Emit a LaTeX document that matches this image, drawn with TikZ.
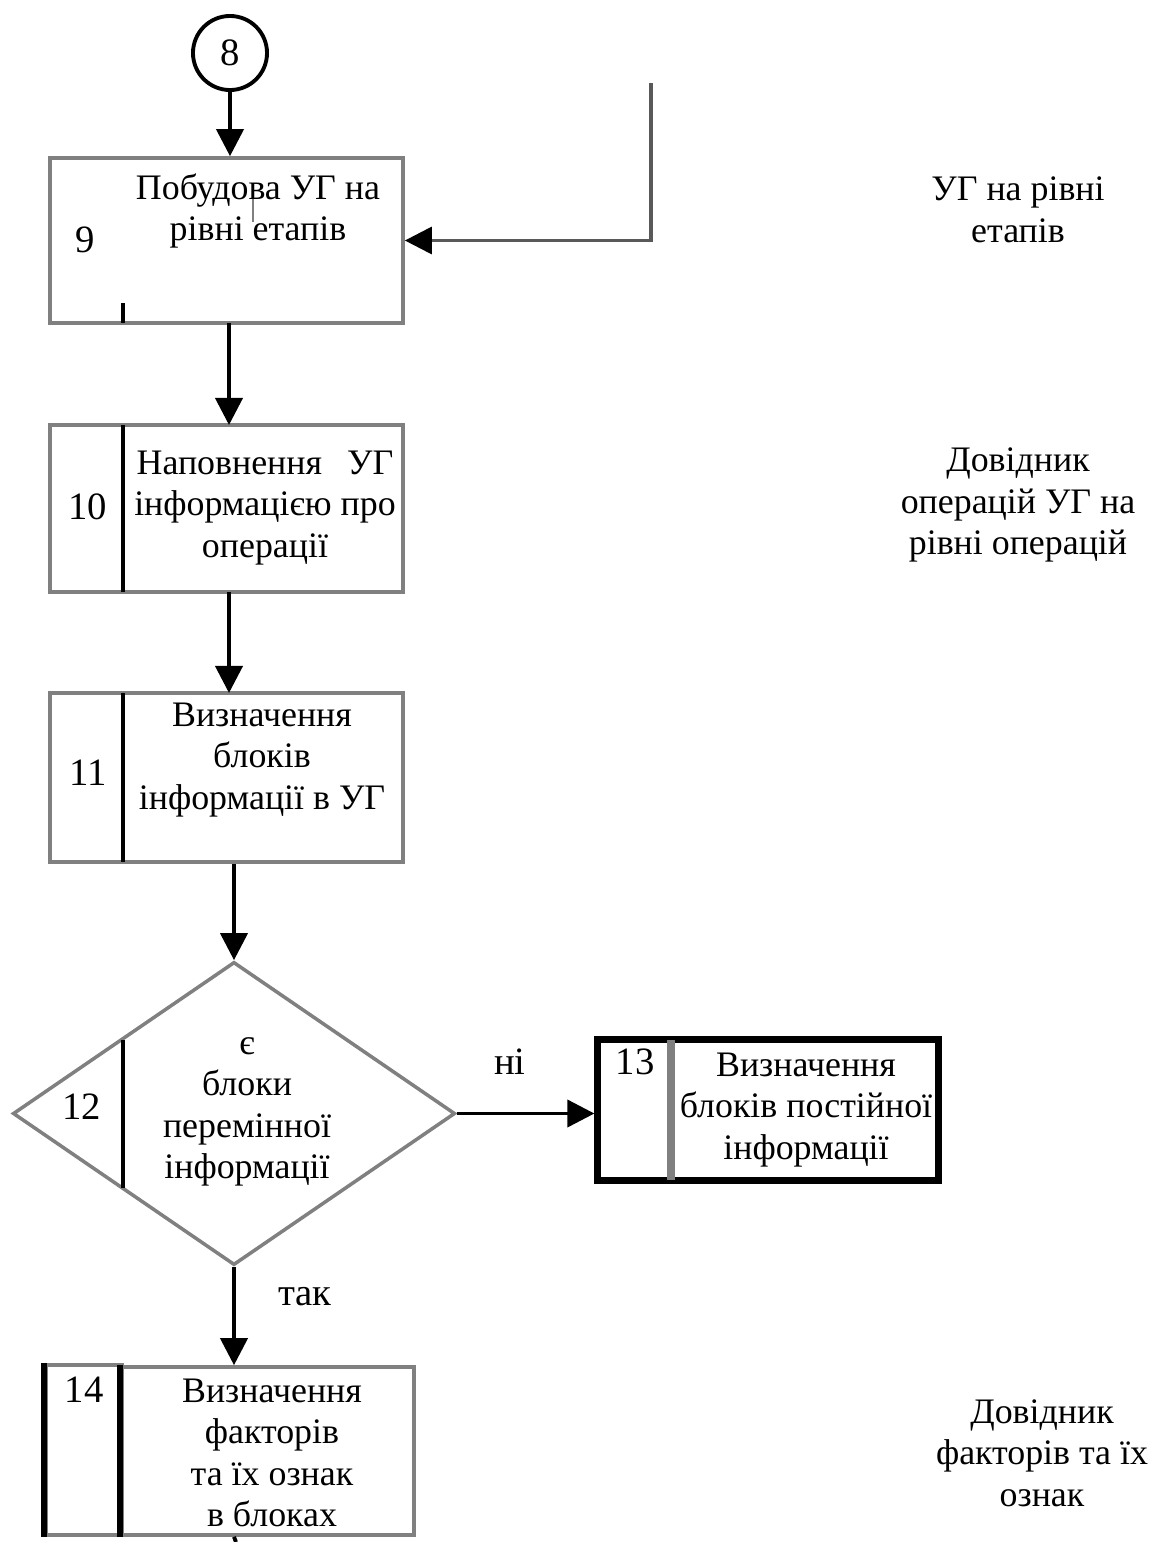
\documentclass[tikz,border=0pt]{standalone}
\usepackage{fontspec}
\setmainfont{Liberation Serif}
\usetikzlibrary{arrows.meta,calc,shapes.geometric}

\begin{document}
\begin{tikzpicture}[x=0.01cm,y=-0.01cm,>={Triangle[length=0.27cm,width=0.27cm]},
		blk/.style={draw=gray,line width=1pt,inner sep=0pt,minimum width=3.53cm,minimum height=1.67cm},
		txt/.style={align=center,inner sep=0pt,font=\fontsize{10.2}{11.8}\selectfont},
		num/.style={inner sep=0pt,font=\fontsize{11}{12}\selectfont},
		flow/.style={->,line width=1.1pt}]
		
		\useasboundingbox (0,0) rectangle (1156,1542);
		
		% Connector 8
		\node[draw,circle,line width=1.1pt,minimum size=0.74cm,inner sep=0pt] (c8) at (230,53) {};
		\node[num] (n8) at (c8) {8};
		
		% Block 9
		\node[blk,minimum height=1.65cm] (b9) at (226.5,240.5) {};
		\draw[line width=1pt] (123,303) -- (123,323);
		\draw[gray,line width=0.8pt] (253,195) -- (253,222);
		\node[num] (n9) at (85,240) {9};
		\node[txt] (t9) at (258,211) {Побудова УГ на\\рівні етапів};
		
		% Feedback into block 9
		\coordinate (fb) at (651,83);
		\draw[->,draw=gray!70!black,line width=0.9pt,>={Triangle[length=0.27cm,width=0.27cm,black]}] (fb) |- (b9.east);
		
		% Block 10
		\node[blk] (b10) at (226.5,508.5) {};
		\draw[line width=1pt] (123,425) -- (123,592);
		\node[num] (n10) at (88,507) {10};
		\node[txt] (t10) at (265,508) {Наповнення\hspace{0.7em}УГ\\інформацією про\\операції};
		
		% Block 11
		\node[blk,minimum height=1.69cm] (b11) at (226.5,777.5) {};
		\draw[line width=1pt] (123,693) -- (123,862);
		\node[num] (n11) at (88,773) {11};
		\node[txt] (t11) at (262,760) {Визначення\\блоків\\інформації в УГ};
		
		% Decision 12
		\node[draw=gray,line width=1pt,diamond,inner sep=0pt,minimum width=4.42cm,minimum height=3.03cm] (d12) at (234,1113.5) {};
		\draw[line width=1pt] (123,1040) -- (123,1188);
		\node[num] (n12) at (82,1107) {12};
		\node[txt] (t12) at (247,1112) {є\\блоки\\перемінної\\інформації};
		
		% Block 13
		\node[draw,line width=2pt,inner sep=0pt,minimum width=3.40cm,minimum height=1.40cm] (b13) at (768,1110) {};
		\draw[gray,line width=2pt] (671,1040) -- (671,1180);
		\node[num] (n13) at (635,1062) {13};
		\node[txt] (t13) at (806,1110) {Визначення\\блоків постійної\\інформації};
		
		% Block 14
		\node[blk,minimum width=2.92cm,minimum height=1.68cm] (b14) at (268,1451) {};
		\node[draw=gray,line width=1pt,inner sep=0pt,minimum width=0.76cm,minimum height=1.70cm] (s14) at (84,1450) {};
		\draw[line width=1.6pt] (s14.north west) -- (s14.south west);
		\draw[line width=1.6pt] (b14.north west) -- (b14.south west);
		\node[num] (n14) at (84,1390) {14};
		\node[txt] (t14) at (272,1453) {Визначення\\факторів\\та їх ознак\\в блоках};
		
		% Flow
		\draw[flow] (c8.south) -- (c8.south |- b9.north);
		\draw[flow] (229,323) -- (229,425);
		\draw[flow] (229,592) -- (229,693);
		\draw[flow] (d12.north |- b11.south) -- (d12.north);
		\draw[flow] (d12.east) -- (d12.east -| b13.west);
		\node[num] (ni) at (510,1062) {ні};
		\draw[flow] (d12.south) -- (d12.south |- b14.north);
		\node[num] (tak) at (305,1297) {так};
		\coordinate (out) at (236,1542);
		\draw[line width=1.1pt] (d12.south |- b14.south) -- (out);
		
		% Data sources
		\node[txt] (r9) at (1018,210) {УГ на рівні\\етапів};
		\node[txt] (r10) at (1018,505) {Довідник\\операцій УГ на\\рівні операцій};
		\node[txt] (r14) at (1042,1453) {Довідник\\факторів та їх\\ознак};
		
	\end{tikzpicture}
\end{document}
